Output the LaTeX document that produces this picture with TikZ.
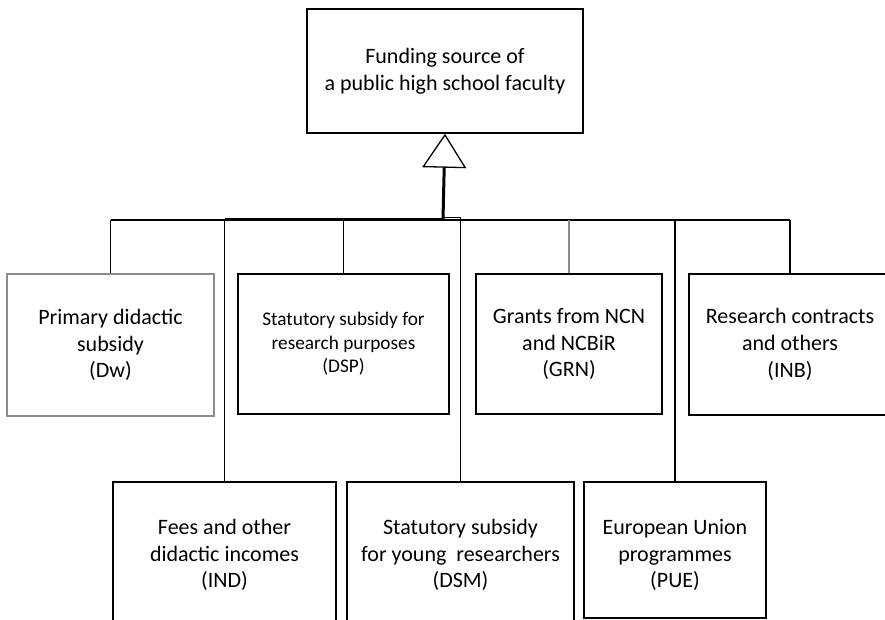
\documentclass[tikz,border=0pt]{standalone}
\usepackage{fontspec}
\setmainfont{Carlito}
\usetikzlibrary{arrows.meta}
\definecolor{grayline}{HTML}{8C8C8C}
\tikzset{
  boxnode/.style={draw=black, line width=1.5pt, rectangle, inner sep=0pt, align=center,
    font=\fontsize{22}{26.8}\selectfont},
  smalltext/.style={font=\fontsize{19.3}{23.5}\selectfont},
  conn/.style={draw=black, line width=1.4pt},
  thickconn/.style={draw=black, line width=3pt},
  plaintext/.style={inner sep=0pt, align=center, font=\fontsize{22}{26.8}\selectfont},
}
\begin{document}
\begin{tikzpicture}[x=1pt,y=-1pt]
\useasboundingbox (0,0) rectangle (885,619);
\clip (0,0) rectangle (885,619);
% top node
\node[boxnode, minimum width=276pt, minimum height=124pt] (top) at (445,71)
  {Funding source of\\a public high school faculty};
% first row
\node[boxnode, draw=grayline, minimum width=207pt, minimum height=142pt] (Dw) at (110.5,345)
  {Primary didactic\\subsidy\\(Dw)};
\node[boxnode, smalltext, minimum width=211pt, minimum height=140pt] (DSP) at (343.5,344)
  {Statutory subsidy for\\research purposes\\(DSP)};
\node[boxnode, minimum width=186pt, minimum height=140pt] (GRN) at (569,344)
  {Grants from NCN\\and NCBiR\\(GRN)};
\node[boxnode, minimum width=202pt, minimum height=141pt] (INB) at (790,344.5)
  {Research contracts\\and others\\(INB)};
% second row
\node[boxnode, minimum width=223pt, minimum height=146pt] (IND) at (224.5,555)
  {Fees and other\\didactic incomes\\(IND)};
\node[boxnode, minimum width=227pt, minimum height=146pt] (DSM) at (460.5,555)
  {Statutory subsidy\\for young\ \ researchers\\(DSM)};
\node[boxnode, minimum width=182pt, minimum height=136pt] (PUE) at (675,550) {};
\node[plaintext] (PUEtext) at (675,555) {European Union\\programmes\\(PUE)};
% bus coordinates
\coordinate (bus) at (443,220);
\coordinate (busT) at (443,219);
\coordinate (stem) at (443,219);
% bus lines
\draw[conn] (Dw.north |- bus) -- (INB.north |- bus);
\draw[thickconn] (IND.north |- busT) -- (stem);
\draw[conn, line width=2pt] (DSM.north |- bus) -- (PUE.north |- bus);
\draw[conn, line width=1pt] ([yshift=1.5pt]stem) -| (DSM.north |- bus);
% stem with open triangle at top
\draw[thickconn, -{Triangle[open, length=34pt, width=44pt, line width=1.3pt]}, shorten >=0pt]
  (stem) -- (top.south);
% drops
\draw[conn] (Dw.north |- bus) -- (Dw.north);
\draw[conn] (DSP.north |- bus) -- (DSP.north);
\draw[conn, draw=grayline] (GRN.north |- bus) -- (GRN.north);
\draw[conn] (INB.north |- bus) -- (INB.north);
\draw[conn] (IND.north |- bus) -- (IND.north);
\draw[conn] (DSM.north |- bus) -- (DSM.north);
\draw[conn] (PUE.north |- bus) -- (PUE.north);
\end{tikzpicture}
\end{document}
